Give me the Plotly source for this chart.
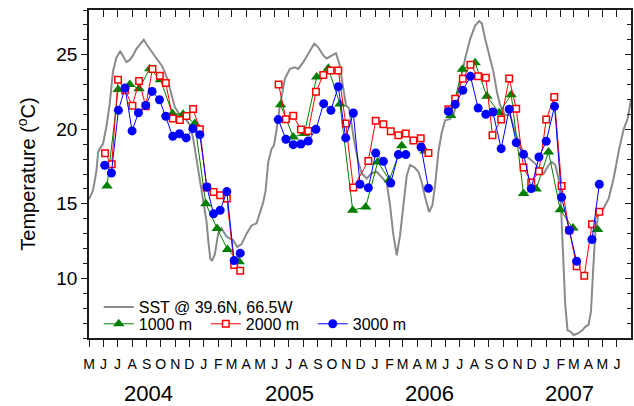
import plotly.graph_objects as go
import pandas as pd

START = pd.Timestamp("2004-05-01")
END = pd.Timestamp("2007-07-01")

# ---- data: day offsets from 2004-05-01 and temperatures (deg C) ----
sst_day = [0, 8.5, 15.8, 19.6, 25, 29.9, 37.2, 44.2, 51.2, 58.5,
           66.6, 74.1, 79.9, 86.9, 94, 101.2, 108.3, 116.8, 123.9, 133.2,
           143.9, 154.6, 161.6, 168.7, 176, 183, 193.7, 208, 215.1, 222.1,
           229.3, 236.4, 243.4, 250.7, 254.5, 258.8, 262.7, 268.4, 275.5, 282.7,
           293.4, 307.5, 316, 325.4, 336.1, 346.8, 357.5, 364.5, 371.6, 376.7,
           382.2, 389.5, 394.4, 400.2, 407.2, 417.9, 428.6, 439.2, 446.3, 457,
           467.7, 474.9, 480.5, 489, 499.7, 507, 517.6, 526.8, 533.9, 541.1,
           548.2, 554.6, 565.2, 574.4, 581.7, 592.4, 603, 613.7, 624.4, 635.1,
           642.1, 649.2, 656.4, 663.5, 670.5, 677.8, 684.8, 694, 702.5, 709.8,
           716.8, 725.4, 732.4, 738.2, 745.3, 752.5, 759.6, 770.3, 777.3, 784.5,
           791.6, 802.3, 812.9, 823.6, 832.2, 837.9, 845, 855.7, 862.7, 870,
           877, 887.7, 898.4, 909.1, 919.7, 930.4, 941.1, 951.8, 962.5, 969.5,
           980.2, 987.4, 994.5, 1001.5, 1006.6, 1010.9, 1015.8, 1020.7, 1026.5, 1033.5,
           1042.1, 1051.5, 1058.5, 1065.6, 1070.7, 1075, 1079.9, 1086.9, 1097.6, 1108.3,
           1118.9, 1129.6, 1140.3, 1148.8, 1156.1]
sst_temp = [15.3, 15.9, 17.2, 18.5, 18.8, 19.0, 20.2, 21.7, 23.9, 24.8,
            25.25, 24.8, 24.5, 24.65, 24.95, 25.4, 25.65, 26.0, 25.65, 25.2,
            24.75, 24.3, 23.85, 23.2, 22.4, 21.5, 20.95, 20.6, 20.3, 19.4,
            18.0, 16.7, 15.4, 13.8, 12.5, 11.3, 11.2, 11.6, 13.0, 13.35,
            12.8, 12.55, 12.1, 12.3, 13.0, 13.55, 13.7, 14.35, 15.1, 15.9,
            17.8, 18.7, 18.9, 20.0, 21.6, 23.4, 24.05, 24.15, 24.05, 24.5,
            25.05, 25.5, 25.75, 25.5, 24.95, 24.75, 24.95, 25.1, 24.4, 22.95,
            21.6, 21.4, 19.3, 17.8, 17.05, 16.7, 17.05, 17.15, 16.8, 16.4,
            14.9, 12.9, 11.55, 12.9, 14.9, 16.9, 17.6, 17.45, 17.15, 16.45,
            15.45, 14.45, 14.9, 16.25, 18.5, 19.8, 20.6, 20.7, 20.95, 21.85,
            23.15, 24.75, 26.05, 26.95, 27.25, 27.1, 26.05, 24.8, 23.85, 22.5,
            21.6, 20.95, 20.95, 19.8, 18.9, 18.25, 18.0, 17.7, 17.15, 17.0,
            17.6, 17.8, 17.6, 16.7, 14.9, 11.6, 8.2, 6.5, 6.45, 6.2,
            6.3, 6.5, 6.75, 6.9, 7.8, 10.4, 13.1, 14.35, 14.7, 15.35,
            16.7, 18.5, 20.0, 20.7, 22.0]

m1000_day = [38.5, 62, 87, 106.8, 129.6, 152.4, 178, 200.7, 225.7, 249.2, 273.3, 295.5, 320.3, None,
             408.6, 435.6, 459.2, 485.6, 510.4, 535.3, 562.4, 590.2, 615.8, 640.6, 667, None,
             716.8, None,
             771.7, 796.5, 823.6, 848.6, 874.9, 900.5, 926.8, 953.9, 980.1, 1005.1, 1032.2, None,
             1084.8]
m1000_temp = [16.2, 22.66, 23.01, 22.72, 24.06, 23.33, 21.05, 21.0, 20.38, 15.0, 13.35, 11.94, 11.11, None,
              21.65, 19.48, 19.71, 23.5, 24.1, 21.69, 14.57, 14.79, 17.81, 16.6, 18.9, None,
              18.55, None,
              20.93, 24.02, 24.46, 22.21, 21.11, 22.32, 15.69, 16.0, 18.48, 14.6, 13.37, None,
              13.27]

m2000_day = [34.2, 48.5, 62, 77, 92.6, 106.8, 121, 135.4, 151, 163.8, 178.7, 193.7, 208, 222, 236.4,
             251, 265.6, 279.8, 294, 309.6, 322.5, None,
             404.4, 420, 435.6, 452, 467.7, 484, 499.7, 515.5, 531.7, 547.5, 563.8, 595.8, 611.5,
             627.8, 643.6, 659.8, 675.6, 691.9, 707.6, 724, None,
             766.6, 781, 797.3, 813.6, 830, 846.4, 860.6, 879.1, 896.2, 911.2, 926.8, 943.2, 959.6,
             975.2, 992.3, 1008, 1024.4, 1040, 1056.4, 1072.8, 1088.4]
m2000_temp = [18.39, 17.65, 23.33, 22.61, 21.58, 23.23, 21.55, 24.04, 23.59, 23.1, 20.73, 20.62, 20.89, 21.36, 20.0,
              16.1, 15.8, 15.58, 15.35, 10.89, 10.51, None,
              23.01, 20.67, 20.91, 19.98, 19.88, 22.52, 23.64, 23.95, 23.95, 20.38, 16.09, 17.88, 20.58,
              20.33, 19.86, 19.6, 19.71, 19.24, 19.4, 18.41, None,
              21.34, 22.05, 23.39, 24.33, 23.55, 23.46, 19.6, 20.65, 23.41, 21.38, 17.43, 16.43, 17.18,
              20.65, 22.16, 16.2, 13.23, 10.82, 10.17, 13.63, 14.46]

m3000_day = [33.5, 47.8, 62.7, 76.9, 91.9, 105.4, 121, 134.6, 150.3, 163.8, 178.7, 193, 207.2, 221.5, 236.4,
             251.4, 265.6, 279.8, 294, 309.6, 322.5, None,
             403.6, 420, 435.6, 452, 467.7, 484, 500.5, 516, 531.7, 547.5, 563.8, 578, 595.8, 611.5,
             627.8, 643.6, 659.8, 675.6, None, 708.3, 724, None,
             766.6, 781, 797.3, 813.6, 830, 846.4, 861.4, 879.1, 896.2, 911.2, 926.8, 943.2, 959.6,
             975.2, 993, 1008, 1024.4, 1040, None, 1072.8, 1088.4]
m3000_temp = [17.59, 17.07, 21.27, 22.77, 19.89, 21.11, 21.6, 22.54, 21.98, 20.87, 19.53, 19.7, 19.42, 20.04, 19.64,
              16.13, 14.33, 14.57, 15.82, 11.2, 11.69, None,
              20.65, 19.33, 18.97, 19.01, 19.21, 20.0, 21.72, 21.27, 22.86, 19.42, 21.09, 16.31, 16.07, 18.41,
              17.85, 16.4, 18.3, 18.3, None, 18.81, 16.04, None,
              21.2, 21.67, 22.61, 23.55, 21.42, 21.0, 21.16, 18.7, 21.34, 19.1, 18.32, 16.02, 18.14,
              19.19, 21.54, 15.44, 13.23, 11.15, None, 12.61, 16.31]

month_labels = ["M", "J", "J", "A", "S", "O", "N", "D",
                "J", "F", "M", "A", "M", "J", "J", "A", "S", "O", "N", "D",
                "J", "F", "M", "A", "M", "J", "J", "A", "S", "O", "N", "D",
                "J", "F", "M", "A", "M", "J"]
year_labels = ["2004", "2005", "2006", "2007"]
year_label_dates = ["2004-09-05", "2005-07-03", "2006-04-28", "2007-02-19"]
y_ticks = [10, 15, 20, 25]


def to_dates(days):
    return [None if d is None else (START + pd.Timedelta(days=d)).strftime("%Y-%m-%d %H:%M")
            for d in days]


month_ticks = [d.strftime("%Y-%m-%d") for d in pd.date_range(START, periods=len(month_labels), freq="MS")]

fig = go.Figure()
fig.add_trace(go.Scatter(x=to_dates(sst_day), y=sst_temp, mode="lines",
                         line=dict(color="#8a8a8a", width=2),
                         name="SST @ 39.6N, 66.5W", legend="legend"))
fig.add_trace(go.Scatter(x=to_dates(m1000_day), y=m1000_temp, mode="lines+markers",
                         line=dict(color="#008000", width=1),
                         marker=dict(symbol="triangle-up", size=10, color="#008000"),
                         name="1000 m", legend="legend2"))
fig.add_trace(go.Scatter(x=to_dates(m2000_day), y=m2000_temp, mode="lines+markers",
                         line=dict(color="#ff0000", width=1),
                         marker=dict(symbol="square", size=6.5, color="white",
                                     line=dict(color="#ff0000", width=1.5)),
                         name="2000 m", legend="legend2"))
fig.add_trace(go.Scatter(x=to_dates(m3000_day), y=m3000_temp, mode="lines+markers",
                         line=dict(color="#0000ff", width=1),
                         marker=dict(symbol="circle", size=9, color="#0000ff"),
                         name="3000 m", legend="legend2"))
# invisible trace so the mirrored (top / right) axes are drawn
fig.add_trace(go.Scatter(x=[None], y=[None], xaxis="x2", yaxis="y2",
                         showlegend=False, hoverinfo="skip"))

axis_color = "#1a1a1a"
fig.update_layout(
    width=634, height=406,
    margin=dict(l=89, r=3, t=10, b=68),
    plot_bgcolor="white", paper_bgcolor="white",
    font=dict(family="Liberation Sans, Arial, sans-serif", color="black"),
    xaxis=dict(type="date", range=[START, END], tickmode="array", automargin=False,
               tickvals=month_ticks, ticktext=month_labels,
               ticks="outside", ticklen=7, tickwidth=1.2, tickcolor=axis_color,
               showline=True, linecolor=axis_color, linewidth=1.5,
               showgrid=False, zeroline=False, tickfont=dict(size=14),
               ticklabelstandoff=5),
    xaxis2=dict(type="date", range=[START, END], overlaying="x", side="top", anchor="y2",
                automargin=False,
                tickmode="array", tickvals=month_ticks, showticklabels=False,
                ticks="inside", ticklen=7, tickwidth=1.2, tickcolor=axis_color,
                showline=True, linecolor=axis_color, linewidth=1.5,
                showgrid=False, zeroline=False),
    yaxis=dict(range=[6, 28], tickmode="array", tickvals=y_ticks, automargin=False,
               ticks="outside", ticklen=6, tickwidth=1.2, tickcolor=axis_color,
               minor=dict(dtick=1, tick0=0, ticks="outside", ticklen=4,
                          tickwidth=1.2, tickcolor=axis_color, showgrid=False),
               showline=True, linecolor=axis_color, linewidth=1.5,
               showgrid=False, zeroline=False, tickfont=dict(size=19),
               title=dict(text="Temperature (<sup>o</sup>C)", font=dict(size=20))),
    yaxis2=dict(range=[6, 28], overlaying="y", side="right", anchor="x2", automargin=False,
                tickmode="array", tickvals=y_ticks, showticklabels=False,
                ticks="inside", ticklen=6, tickwidth=1.2, tickcolor=axis_color,
                minor=dict(dtick=1, tick0=0, ticks="inside", ticklen=4,
                           tickwidth=1.2, tickcolor=axis_color, showgrid=False),
                showline=True, linecolor=axis_color, linewidth=1.5,
                showgrid=False, zeroline=False),
    legend=dict(x=0.018, xanchor="left", y=0.094, yanchor="middle",
                bgcolor="rgba(0,0,0,0)", font=dict(size=16),
                tracegroupgap=0, itemwidth=30),
    legend2=dict(x=0.018, xanchor="left", y=0.043, yanchor="middle", orientation="h",
                 bgcolor="rgba(0,0,0,0)", font=dict(size=16), itemwidth=30,
                 entrywidth=62),
    showlegend=True,
)

for txt, xd in zip(year_labels, year_label_dates):
    fig.add_annotation(text=txt, x=xd, xref="x", y=-0.168, yref="paper",
                       yanchor="middle", xanchor="center", showarrow=False,
                       font=dict(size=22))

fig.write_html("out.html", config={"displayModeBar": False},
               post_script="document.body.style.margin='0';document.body.style.padding='0';")
